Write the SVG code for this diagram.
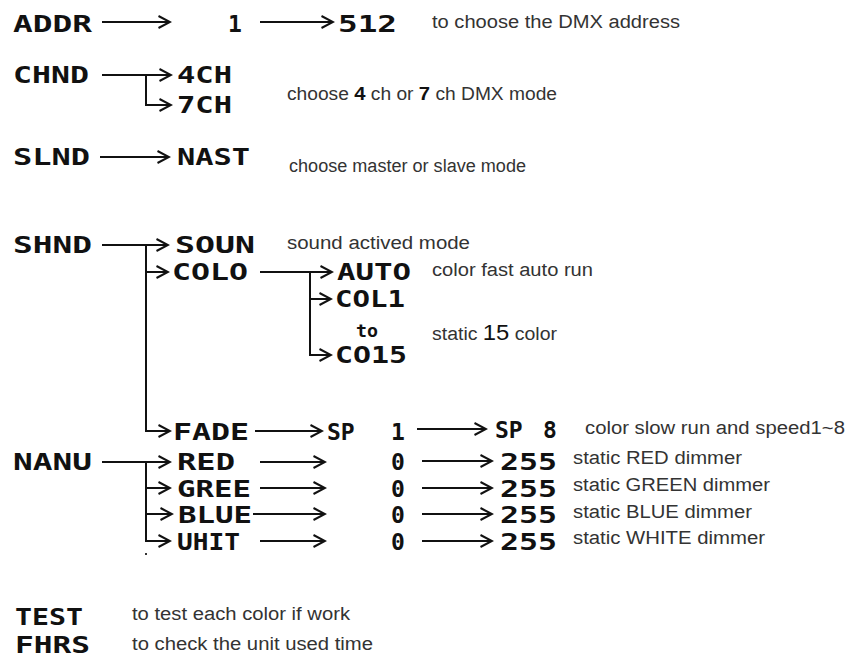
<svg xmlns="http://www.w3.org/2000/svg" width="849" height="665" viewBox="0 0 849 665">
<defs>
<marker id="arr" viewBox="0 0 14 14" markerWidth="14" markerHeight="14" refX="12.5" refY="7" orient="auto" markerUnits="userSpaceOnUse">
<path d="M1,1 L12.5,7 L1,13" fill="none" stroke="#111" stroke-width="2"/>
</marker>
</defs>
<style>
.lcd{font-family:"DejaVu Sans Mono","Liberation Mono",monospace;font-weight:bold;font-size:23px;fill:#111}
.sm{font-family:"DejaVu Sans Mono","Liberation Mono",monospace;font-weight:bold;font-size:17px;fill:#111}
.d{font-family:"Liberation Sans",Arial,sans-serif;font-size:18px;fill:#333}
.b{font-weight:bold;fill:#111;font-size:19px}
.big{fill:#111;font-size:22px}
.c{fill:none;stroke:#111;stroke-width:2}
.a{marker-end:url(#arr)}
</style>
<rect width="849" height="665" fill="#fff"/>
<g id="connectors">
<path class="c a" d="M102,22 H170"/>
<path class="c a" d="M260,22 H333"/>
<path class="c a" d="M102,75 H171"/>
<path class="c a" d="M146,75 V105 H171"/>
<path class="c a" d="M100,157 H169"/>
<path class="c a" d="M102,245 H168"/>
<path class="c a" d="M146,245 V431 H170"/>
<path class="c a" d="M146,272 H168"/>
<path class="c a" d="M260,272 H332"/>
<path class="c a" d="M310,272 V355 H331"/>
<path class="c a" d="M310,299 H331"/>
<path class="c a" d="M255,431 H322"/>
<path class="c a" d="M417,429 H486"/>
<path class="c a" d="M102,462 H170"/>
<path class="c a" d="M146,462 V541 H170"/>
<path class="c a" d="M146,488 H170"/>
<path class="c a" d="M146,514 H172"/>
<path class="c a" d="M260,462 H325"/>
<path class="c a" d="M260,488 H325"/>
<path class="c a" d="M253,514 H325"/>
<path class="c a" d="M260,541 H325"/>
<path class="c a" d="M422,461 H492"/>
<path class="c a" d="M422,488 H492"/>
<path class="c a" d="M422,514 H492"/>
<path class="c a" d="M422,541 H492"/>
<rect x="145" y="553" width="2" height="2" fill="#333"/>
</g>
<g id="addr">
<text class="lcd" x="13" y="32" textLength="79" lengthAdjust="spacingAndGlyphs">ADDR</text>
<text class="lcd" x="235" y="32" text-anchor="middle">1</text>
<text class="lcd" x="338" y="32" textLength="59" lengthAdjust="spacingAndGlyphs">512</text>
<text class="d" x="432" y="28" textLength="248" lengthAdjust="spacingAndGlyphs">to choose the DMX address</text>
</g>
<g id="chnd">
<text class="lcd" x="13" y="83" textLength="76" lengthAdjust="spacingAndGlyphs">CHND</text>
<text class="lcd" x="177" y="83" textLength="55" lengthAdjust="spacingAndGlyphs">4CH</text>
<text class="lcd" x="177" y="113" textLength="55" lengthAdjust="spacingAndGlyphs">7CH</text>
<text class="d" x="287" y="100" textLength="270" lengthAdjust="spacingAndGlyphs">choose <tspan class="b">4</tspan> ch or <tspan class="b">7</tspan> ch DMX mode</text>
</g>
<g id="slnd">
<text class="lcd" x="13" y="165" textLength="77" lengthAdjust="spacingAndGlyphs">SLND</text>
<text class="lcd" x="177" y="165" textLength="73" lengthAdjust="spacingAndGlyphs">NAST</text>
<text class="d" x="289" y="172" textLength="237" lengthAdjust="spacingAndGlyphs">choose master or slave mode</text>
</g>
<g id="shnd">
<text class="lcd" x="13" y="253" textLength="79" lengthAdjust="spacingAndGlyphs">SHND</text>
<text class="lcd" x="175" y="253" textLength="80" lengthAdjust="spacingAndGlyphs">SOUN</text>
<text class="d" x="287" y="249" textLength="183" lengthAdjust="spacingAndGlyphs">sound actived mode</text>
</g>
<g id="colo">
<text class="lcd" x="172" y="280" textLength="76" lengthAdjust="spacingAndGlyphs">COLO</text>
<text class="lcd" x="337" y="280" textLength="74" lengthAdjust="spacingAndGlyphs">AUTO</text>
<text class="d" x="432" y="276" textLength="161" lengthAdjust="spacingAndGlyphs">color fast auto run</text>
<text class="lcd" x="335" y="307" textLength="70" lengthAdjust="spacingAndGlyphs">COL1</text>
<text class="sm" x="356" y="337" textLength="22" lengthAdjust="spacingAndGlyphs">to</text>
<text class="d" x="432" y="340" textLength="125" lengthAdjust="spacingAndGlyphs">static <tspan class="big">15</tspan> color</text>
<text class="lcd" x="335" y="363" textLength="72" lengthAdjust="spacingAndGlyphs">CO15</text>
</g>
<g id="fade">
<text class="lcd" x="173" y="440" textLength="76" lengthAdjust="spacingAndGlyphs">FADE</text>
<text class="lcd" x="327" y="440">SP <tspan x="391">1</tspan></text>
<text class="lcd" x="495" y="438">SP <tspan x="543">8</tspan></text>
<text class="d" x="585" y="434" textLength="260" lengthAdjust="spacingAndGlyphs">color slow run and speed1~8</text>
</g>
<g id="nanu">
<text class="lcd" x="13" y="470" textLength="79" lengthAdjust="spacingAndGlyphs">NANU</text>
</g>
<g id="red">
<text class="lcd" x="177" y="470" textLength="58" lengthAdjust="spacingAndGlyphs">RED</text>
<text class="lcd" x="398" y="470" text-anchor="middle">0</text>
<text class="lcd" x="500" y="470" textLength="57" lengthAdjust="spacingAndGlyphs">255</text>
<text class="d" x="573" y="464" textLength="169" lengthAdjust="spacingAndGlyphs">static RED dimmer</text>
</g>
<g id="gree">
<text class="lcd" x="177" y="497" textLength="74" lengthAdjust="spacingAndGlyphs">GREE</text>
<text class="lcd" x="398" y="497" text-anchor="middle">0</text>
<text class="lcd" x="500" y="497" textLength="57" lengthAdjust="spacingAndGlyphs">255</text>
<text class="d" x="573" y="491" textLength="197" lengthAdjust="spacingAndGlyphs">static GREEN dimmer</text>
</g>
<g id="blue">
<text class="lcd" x="178" y="523" textLength="74" lengthAdjust="spacingAndGlyphs">BLUE</text>
<text class="lcd" x="398" y="523" text-anchor="middle">0</text>
<text class="lcd" x="500" y="523" textLength="57" lengthAdjust="spacingAndGlyphs">255</text>
<text class="d" x="573" y="518" textLength="179" lengthAdjust="spacingAndGlyphs">static BLUE dimmer</text>
</g>
<g id="uhit">
<text class="lcd" x="177" y="550" textLength="63" lengthAdjust="spacingAndGlyphs">UHIT</text>
<text class="lcd" x="398" y="550" text-anchor="middle">0</text>
<text class="lcd" x="500" y="550" textLength="57" lengthAdjust="spacingAndGlyphs">255</text>
<text class="d" x="573" y="544" textLength="192" lengthAdjust="spacingAndGlyphs">static WHITE dimmer</text>
</g>
<g id="test">
<text class="lcd" x="15" y="625" textLength="68" lengthAdjust="spacingAndGlyphs">TEST</text>
<text class="d" x="132" y="620" textLength="218" lengthAdjust="spacingAndGlyphs">to test each color if work</text>
</g>
<g id="fhrs">
<text class="lcd" x="15" y="653" textLength="75" lengthAdjust="spacingAndGlyphs">FHRS</text>
<text class="d" x="132" y="650" textLength="241" lengthAdjust="spacingAndGlyphs">to check the unit used time</text>
</g>
</svg>
